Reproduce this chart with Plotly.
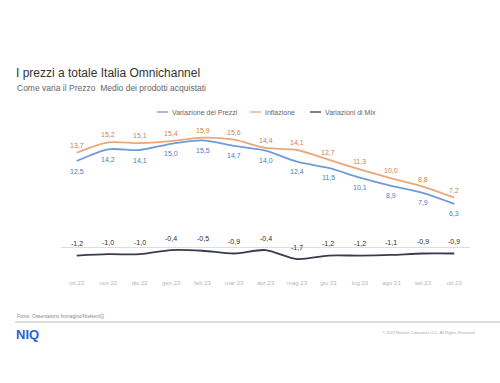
import plotly.graph_objects as go

months = ["ott 22", "nov 22", "dic 22", "gen 23", "feb 23", "mar 23", "apr 23",
          "mag 23", "giu 23", "lug 23", "ago 23", "set 23", "ott 23"]
prezzi = [12.5, 14.2, 14.1, 15.0, 15.5, 14.7, 14.0, 12.4, 11.5, 10.1, 8.9, 7.9, 6.3]
inflazione = [13.7, 15.2, 15.1, 15.4, 15.9, 15.6, 14.4, 14.1, 12.7, 11.3, 10.0, 8.8, 7.2]
mix = [-1.2, -1.0, -1.0, -0.4, -0.5, -0.9, -0.4, -1.7, -1.2, -1.2, -1.1, -0.9, -0.9]
series_names = ["Variazione dei Prezzi", "Inflazione", "Variazioni di Mix"]

def fmt(v):
    return f"{v:.1f}".replace(".", ",")

x = list(range(len(months)))
FONT = "Liberation Sans, Arial, sans-serif"

L, R, T, B = 61, 30, 130, 115
W, H = 500, 383
PW, PH = W - L - R, H - T - B

def px(xp):
    return (xp - L) / PW

def py(yp):
    return (H - B - yp) / PH

line_colors = ["#6F9BD8", "#EBA77A", "#3A3B4F"]
label_colors = ["#4D7BC0", "#C9824F", "#2A2A2A"]
shifts = [-10, 7.5, 12]
data = [prezzi, inflazione, mix]

fig = go.Figure()
for name, vals, lc in zip(series_names, data, line_colors):
    fig.add_trace(go.Scatter(
        x=x, y=vals, name=name, mode="lines",
        line=dict(color=lc, width=1.8, shape="spline", smoothing=0.8),
        showlegend=False, hoverinfo="skip"))

for vals, col, ys in zip(data, label_colors, shifts):
    for xi, v in zip(x, vals):
        fig.add_annotation(x=xi, y=v, text=fmt(v), showarrow=False, yshift=ys,
                           font=dict(size=7, color=col, family=FONT))

fig.update_layout(
    width=W, height=H,
    margin=dict(l=L, r=R, t=T, b=B, autoexpand=False),
    paper_bgcolor="white", plot_bgcolor="white",
    font=dict(family=FONT, color="#555"),
    showlegend=False,
    xaxis=dict(range=[-0.5, 12.5], tickmode="array", tickvals=x, ticktext=months,
               showgrid=False, zeroline=False, showline=False, automargin=False,
               tickfont=dict(size=6, color="#B5B5B5"), ticks="outside", ticklen=9,
               tickcolor="rgba(0,0,0,0)", fixedrange=True),
    yaxis=dict(range=[-3, 17], showgrid=False, showticklabels=False, automargin=False,
               zeroline=True, zerolinecolor="#DDDDDD", zerolinewidth=1, fixedrange=True),
)

# legend (drawn manually to match the short line keys)
leg_x = [157, 250, 310]
for name, lc, lx in zip(series_names, line_colors, leg_x):
    fig.add_shape(type="line", xref="paper", yref="paper", x0=px(lx), x1=px(lx + 11),
                  y0=py(112), y1=py(112), line=dict(color=lc, width=1.3))
    fig.add_annotation(text=name, xref="paper", yref="paper", x=px(lx + 13), y=py(112),
                       xanchor="left", yanchor="middle", showarrow=False,
                       font=dict(size=7, color="#666666", family=FONT))

fig.add_annotation(text="I prezzi a totale Italia Omnichannel", xref="paper", yref="paper",
                   x=px(14), y=py(73), xanchor="left", yanchor="middle", showarrow=False,
                   font=dict(size=12, color="#333333", family=FONT))
fig.add_annotation(text="Come varia il Prezzo  Medio dei prodotti acquistati", xref="paper", yref="paper",
                   x=px(15), y=py(88), xanchor="left", yanchor="middle", showarrow=False,
                   font=dict(size=8.5, color="#666666", family=FONT))
fig.add_annotation(text="Fonte: Osservatorio Immagino/NielsenIQ", xref="paper", yref="paper",
                   x=px(15), y=py(316), xanchor="left", yanchor="middle", showarrow=False,
                   font=dict(size=4.8, color="#888888", family=FONT))
fig.add_shape(type="line", xref="paper", yref="paper", x0=px(15), x1=px(500), y0=py(322), y1=py(322),
              line=dict(color="#BBBBBB", width=1))
fig.add_annotation(text="<b>NIQ</b>", xref="paper", yref="paper",
                   x=px(14), y=py(334), xanchor="left", yanchor="middle", showarrow=False,
                   font=dict(size=13, color="#2D5FD6", family=FONT))
fig.add_annotation(text="© 2023 Nielsen Consumer LLC. All Rights Reserved.", xref="paper", yref="paper",
                   x=px(478), y=py(332), xanchor="right", yanchor="middle", showarrow=False,
                   font=dict(size=4, color="#AAAAAA", family=FONT))

fig.write_html("out.html", config={"displayModeBar": False},
               post_script="document.body.style.margin='0';document.body.style.padding='0';")
